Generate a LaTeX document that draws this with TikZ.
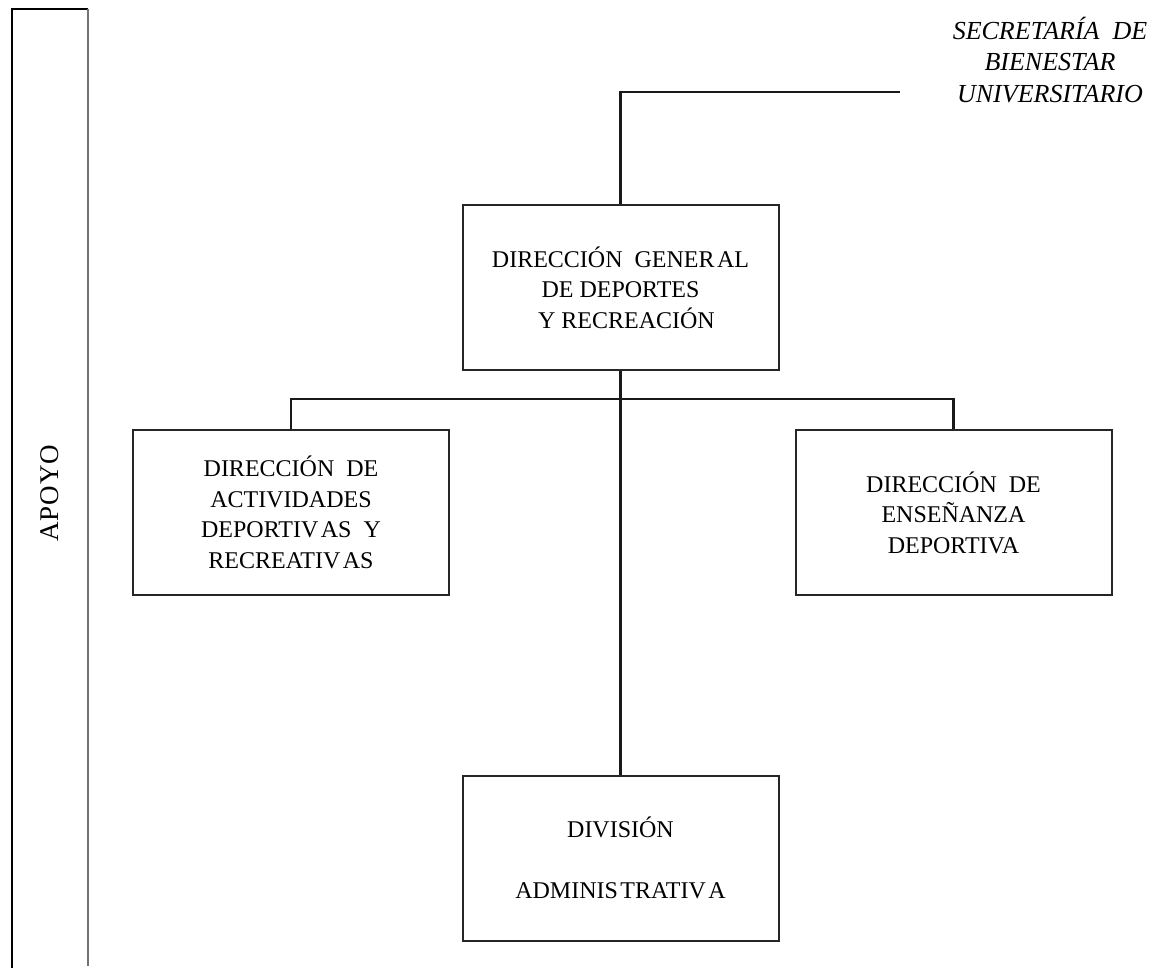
\documentclass[tikz,border=0pt]{standalone}
\usepackage{fontspec}
\setmainfont{Liberation Serif}
\newcommand{\gp}{\kern2.5pt}
\begin{document}
\begin{tikzpicture}[x=1pt,y=-1pt,
  unitbox/.style={draw=black!85,line width=2pt,minimum width=316pt,minimum height=165pt,
    inner sep=0pt,align=center,font=\fontsize{24}{30.5}\selectfont},
  link/.style={draw=black!90,line width=2.2pt}]
\useasboundingbox (0,0) rectangle (1160,968);
% side band
\draw[line width=2.2pt,black] (12,968) -- (12,9) -- (88,9);
\draw[line width=2pt,black!55] (88,9) -- (88,966);
\node[rotate=90,font=\fontsize{27}{30}\selectfont] (apoyo) at (50,493) {A\kern1pt P\kern1pt O\kern1pt Y\kern1pt O};
% boxes
\node[unitbox] (gen) at (620.5,287.5) {DIRECCIÓN\ \ GENER\gp AL\\DE DEPORTES\\\ \ Y RECREACIÓN};
\node[unitbox] (act) at (291,512.5) {DIRECCIÓN\ \ DE\\ACTIVIDADES\\DEPORTIV\gp AS\ \ Y\\RECREATIV\gp AS};
\node[unitbox] (ens) at (953.5,512.5) {DIRECCIÓN\ \ DE\\ENSEÑANZA\\DEPORTIVA};
\node[unitbox] (adm) at (620.5,858) {DIVISIÓN\\[30pt]ADMINIS\gp TRATIV\gp A};
% superior unit
\node[font=\fontsize{26}{31.5}\selectfont\itshape,align=center] (sec) at (1050,60)
  {SECRETARÍA\ \ DE\\BIENESTAR\\UNIVERSITARIO};
\coordinate (secend) at (900,92);
% connectors
\draw[link] (gen.north) |- (secend);
\draw[link] (gen.south) -- (adm.north);
\draw[link] (act.north) -- ++(0,-30) -| (ens.north);
\end{tikzpicture}
\end{document}
